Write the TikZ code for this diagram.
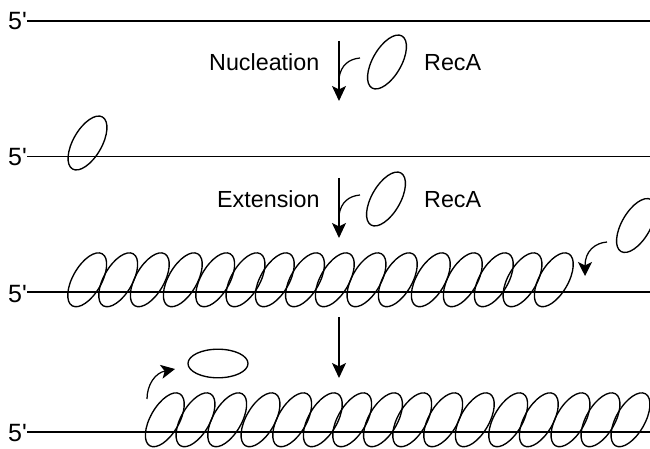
\documentclass[tikz,border=0pt]{standalone}
\usepackage{fontspec}
\setmainfont{Liberation Sans}
\usetikzlibrary{shapes.geometric,arrows.meta}
\tikzset{
  x=1pt,y=-1pt,
  recA/.style={draw=black,line width=1.35pt,ellipse,inner sep=0pt,minimum width=60pt,minimum height=28.6pt,rotate=60},
  recAflat/.style={recA,rotate=-60},
  strand/.style={draw=black,line width=1.5pt},
  thinstrand/.style={draw=black,line width=0.9pt},
  steplabel/.style={anchor=base west,inner sep=0pt,font=\fontsize{23.3}{26}\selectfont},
  primelabel/.style={anchor=base west,inner sep=0pt,font=\fontsize{25}{28}\selectfont},
  flow/.style={draw=black,line width=1.5pt,-{Stealth[length=15pt,width=14pt,inset=3.5pt]}},
  joiner/.style={draw=black,line width=1.25pt},
  curvedflow/.style={draw=black,line width=1.25pt,-{Stealth[length=14pt,width=14pt,inset=3.5pt]}}
}
\begin{document}
\begin{tikzpicture}
\useasboundingbox (0,0) rectangle (650,449);
\clip (0,0) rectangle (650,449);

% 5' ends of the four strands
\node[primelabel] (endA) at (8,30) {5\textquotesingle};
\node[primelabel] (endB) at (8,166) {5\textquotesingle};
\node[primelabel] (endC) at (8,302) {5\textquotesingle};
\node[primelabel] (endD) at (8,441) {5\textquotesingle};
\coordinate (farA) at (650,21);
\coordinate (farB) at (650,156);
\coordinate (farC) at (650,292);
\coordinate (farD) at (650,432);
\draw[strand] (endA.east |- farA) -- (farA);
\draw[thinstrand] (endB.east |- farB) -- (farB);
\draw[strand] (endC.east |- farC) -- (farC);
\draw[strand] (endD.east |- farD) -- (farD);

% Step labels
\node[steplabel] (nuc) at (209,70.5) {Nucleation};
\node[steplabel] (recaA) at (424,70.5) {RecA};
\node[steplabel] (ext) at (217,207.5) {Extension};
\node[steplabel] (recaB) at (424,207.5) {RecA};

% Free monomers
\node[recA] (freeA) at (387,62) {};
\node[recA] (freeB) at (386,199) {};
\node[recA] (incoming) at (636,225.5) {};
\node[recAflat] (released) at (218,363.5) {};

% Nucleated monomer
\node[recA] (seed) at (87.5,143) {};

% Assembled filament (centre x of each monomer)
\foreach \cx [count=\i] in {87.2,118.2,149.8,182.8,215.2,245.5,274.8,305,
                            334.8,366.5,397.8,430.8,462.8,493.8,522.5,553.8} {
  \node[recA] (fil\i) at (\cx,279.8) {};
}
% Filament after the 5' monomer has left
\foreach \cx [count=\i] in {164.8,195.5,227.2,260.5,292.2,322.8,352.2,383,
                            412.2,443.2,474.8,508.2,538.8,570.5,600.5,630.5} {
  \node[recA] (dis\i) at (\cx,419.8) {};
}

% Reaction arrows between the stages
\coordinate (topA) at (339,41);  \coordinate (tipA) at (339,101);
\coordinate (topB) at (339,178); \coordinate (tipB) at (339,238);
\coordinate (topC) at (339,317); \coordinate (tipC) at (339,378);
\draw[flow] (topA) -- (tipA);
\draw[flow] (topB) -- (tipB);
\draw[flow] (topC) -- (tipC);

% Binding of monomers to the vertical arrows
\coordinate (fromA) at (360,58);
\coordinate (fromB) at (360,195);
\draw[joiner] (fromA) .. controls (349,59) and (341,65) .. (339,78);
\draw[joiner] (fromB) .. controls (349,196) and (341,202) .. (339,215);

% Addition at the growing end and release from the other end
\coordinate (addS) at (607,242); \coordinate (addT) at (585,276);
\coordinate (offS) at (147,399); \coordinate (offT) at (175,369);
\draw[curvedflow] (addS) .. controls (595,243) and (585,251) .. (addT);
\draw[curvedflow] (offS) .. controls (147,385) and (155,373) .. (offT);
\end{tikzpicture}
\end{document}
